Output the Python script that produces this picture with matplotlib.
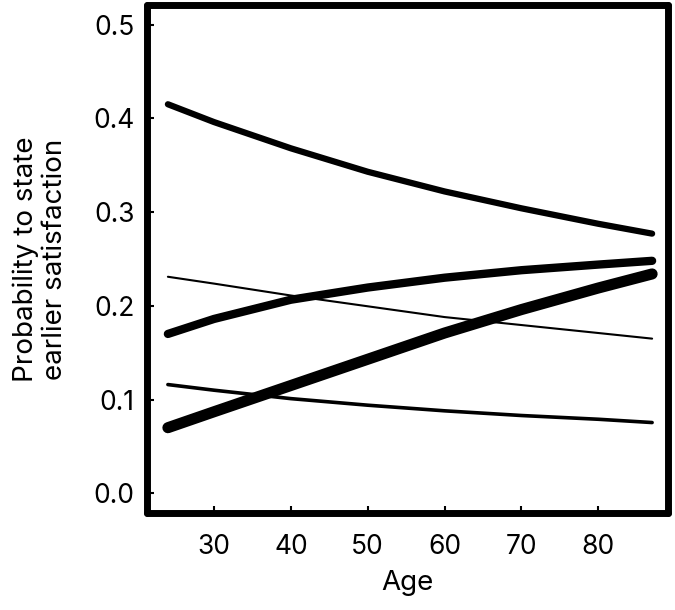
import matplotlib
matplotlib.use("Agg")
import matplotlib.pyplot as plt

plt.rcParams['font.family'] = ['Inter', 'Liberation Sans', 'DejaVu Sans']

age = [24, 30, 40, 50, 60, 70, 80, 87]

# predicted probabilities, one list per curve
p_top = [0.415, 0.396, 0.368, 0.343, 0.322, 0.304, 0.2875, 0.277]
p_mid = [0.170, 0.186, 0.2065, 0.2195, 0.230, 0.238, 0.244, 0.248]
p_rise = [0.070, 0.087, 0.115, 0.143, 0.171, 0.196, 0.219, 0.234]
p_thin = [0.231, 0.2237, 0.211, 0.1995, 0.188, 0.1795, 0.171, 0.165]
p_low = [0.116, 0.110, 0.101, 0.094, 0.088, 0.083, 0.079, 0.0755]

xticks = [30, 40, 50, 60, 70, 80]
yticks = [0.0, 0.1, 0.2, 0.3, 0.4, 0.5]

fig = plt.figure(figsize=(6.75, 6.1), dpi=100)
ax = fig.add_axes([0.218, 0.159, 0.772, 0.833])

style = dict(color='black', solid_capstyle='round', solid_joinstyle='round')
ax.plot(age, p_thin, lw=1.5, **style)
ax.plot(age, p_low, lw=2.6, **style)
ax.plot(age, p_top, lw=4.5, **style)
ax.plot(age, p_mid, lw=6.0, **style)
ax.plot(age, p_rise, lw=8.0, **style)

ax.set_xlim(21.3, 89.1)
ax.set_ylim(-0.021, 0.521)
ax.set_xticks(xticks)
ax.set_yticks(yticks)
ax.set_yticklabels([f'{v:.1f}' for v in yticks])
ax.tick_params(direction='in', length=5, width=1.5, labelsize=19)
ax.tick_params(axis='x', pad=15)
ax.tick_params(axis='y', pad=9)

for s in ax.spines.values():
    s.set_linewidth(5)
    s.set_capstyle('round')

ax.set_xlabel('Age', fontsize=20, labelpad=7)
ax.set_ylabel('Probability to state\nearlier satisfaction', fontsize=20, labelpad=18, linespacing=1.15)

fig.savefig('out.png', dpi=100)
